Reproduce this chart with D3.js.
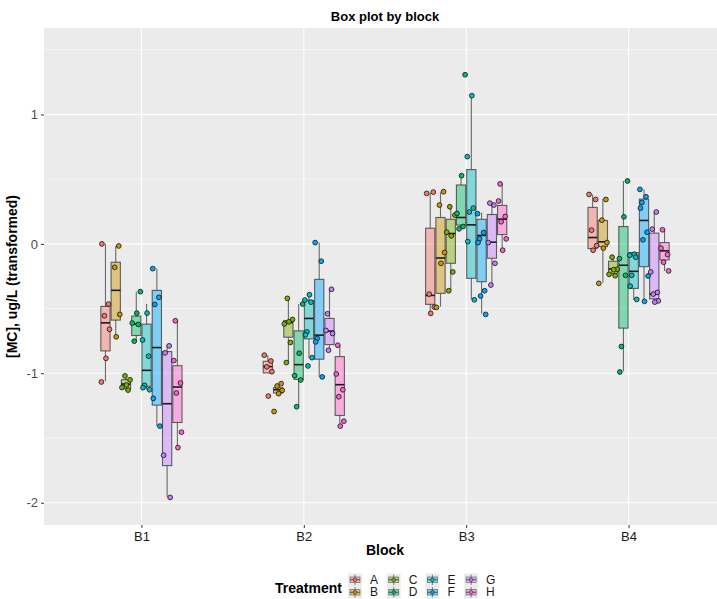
<!DOCTYPE html>
<html>
<head>
<meta charset="utf-8">
<script src="https://cdn.jsdelivr.net/npm/d3@7"></script>
<style>
  body { margin: 0; background: #fff; }
  text { font-family: "Liberation Sans", Arial, sans-serif; }
</style>
</head>
<body>
<div id="chart"></div>
<script>
var blocks = ["B1", "B2", "B3", "B4"];
var treatments = ["A", "B", "C", "D", "E", "F", "G", "H"];
var colors = ["#F8766D", "#CD9600", "#7CAE00", "#00BE67", "#00BFC4", "#00A9FF", "#C77CFF", "#FF61CC"];
var yTicks = [-2, -1, 0, 1];

// box statistics, one row per block, one value per treatment A..H
var lowerWhisker = [
  [-1.06, -0.71, -1.13, -0.752, -1.127, -1.408, -1.953, -1.566],
  [-0.997, -1.157, -0.912, -1.253, -0.881, -1.028, -0.822, -1.416],
  [-0.525, -0.486, -0.357, 0.116, -0.429, -0.537, -0.313, -0.047],
  [-0.049, -0.3, -0.246, -0.984, -0.434, -0.447, -0.45, -0.209]
];
var lowerHinge = [
  [-0.827, -0.589, -1.119, -0.708, -1.101, -1.246, -1.713, -1.38],
  [-0.997, -1.152, -0.721, -1.047, -0.734, -0.891, -0.778, -1.326],
  [-0.467, -0.382, -0.15, 0.145, -0.266, -0.292, -0.111, 0.072],
  [-0.036, -0.021, -0.227, -0.651, -0.344, -0.176, -0.424, -0.124]
];
var medians = [
  [-0.61, -0.359, -1.083, -0.62, -0.977, -0.801, -1.235, -1.106],
  [-0.948, -1.127, -0.607, -0.933, -0.576, -0.705, -0.674, -1.088],
  [-0.398, -0.109, 0.08, 0.204, 0.147, 0.065, 0.013, 0.191],
  [0.049, 0.016, -0.194, -0.165, -0.212, 0.181, -0.388, -0.054]
];
var upperHinge = [
  [-0.483, -0.142, -1.049, -0.558, -0.62, -0.359, -0.832, -0.941],
  [-0.907, -1.111, -0.592, -0.672, -0.437, -0.274, -0.576, -0.871],
  [0.121, 0.204, 0.19, 0.455, 0.574, 0.19, 0.227, 0.297],
  [0.282, 0.181, -0.134, 0.134, -0.067, 0.346, 0.083, 0.01]
];
var upperWhisker = [
  [0.0, -0.016, -1.02, -0.369, -0.465, -0.191, -0.788, -0.594],
  [-0.86, -1.085, -0.421, -0.465, -0.395, 0.01, -0.351, -0.783],
  [0.393, 0.398, 0.287, 0.53, 1.145, 0.243, 0.32, 0.463],
  [0.382, 0.346, -0.103, 0.486, -0.067, 0.421, 0.243, 0.109]
];

// observations per treatment
var pointsB1 = [
  [0.0, -0.465, -0.555, -0.66, -0.884, -1.067],
  [-0.016, -0.181, -0.545, -0.718],
  [-1.02, -1.05, -1.09, -1.11, -1.13],
  [-0.369, -0.535, -0.612, -0.622, -0.752],
  [-0.535, -0.742, -0.868, -1.093, -1.111, -1.127],
  [-0.191, -0.413, -0.468, -1.194, -1.408],
  [-0.788, -0.842, -1.633, -1.959],
  [-0.594, -0.902, -1.075, -1.152, -1.455, -1.574]
];
var pointsB2 = [
  [-0.86, -0.905, -0.95, -0.987, -1.176],
  [-1.08, -1.098, -1.132, -1.157, -1.295],
  [-0.421, -0.584, -0.602, -0.618, -0.762, -0.917],
  [-0.465, -0.845, -1.018, -1.052, -1.258],
  [-0.393, -0.434, -0.45, -0.68, -0.703, -0.879, -0.943],
  [0.01, -0.134, -0.731, -0.757, -1.028],
  [-0.351, -0.54, -0.669, -0.692, -0.822],
  [-0.783, -1.005, -1.127, -1.181, -1.37, -1.408]
];
var pointsB3 = [
  [0.39, 0.40, -0.388, -0.488, -0.537],
  [0.403, 0.30, -0.067, -0.15, -0.491],
  [0.287, 0.222, 0.062, 0.09, -0.217, -0.362],
  [1.307, 0.527, 0.235, 0.134, 0.116],
  [1.145, 0.674, 0.277, 0.246, 0.018, -0.432],
  [0.233, 0.088, 0.039, 0.01, -0.362, -0.403, -0.545],
  [0.3, 0.315, 0.01, -0.15, -0.318],
  [0.463, 0.331, 0.212, 0.171, 0.039, -0.049]
];
var pointsB4 = [
  [0.382, 0.343, 0.106, -0.013, -0.049],
  [0.343, 0.183, 0.01, -0.033, -0.305],
  [-0.103, -0.196, -0.199, -0.235, -0.246],
  [0.486, 0.209, -0.114, -0.243, -0.793, -0.99],
  [-0.08, -0.088, -0.103, -0.243, -0.326, -0.429],
  [0.421, 0.364, 0.32, 0.276, 0.09, 0.031, -0.248, -0.444],
  [0.246, 0.114, -0.217, -0.375, -0.388, -0.44, -0.45],
  [0.109, -0.033, -0.083, -0.142, -0.209]
];
var points = [pointsB1, pointsB2, pointsB3, pointsB4];

var W = 717, H = 599;
var margin = { top: 28, right: -9, bottom: 74, left: 44 };
var width = W - margin.left - margin.right;
var height = H - margin.top - margin.bottom;

var svg = d3.select("#chart").append("svg")
    .attr("width", W)
    .attr("height", H);

var x = d3.scalePoint().domain(blocks).range([0, width]).padding(0.6);
var step = x.step();
var xi = d3.scaleBand().domain(treatments)
    .range([-0.25 * step, 0.25 * step])
    .paddingInner(0.1);

var y = d3.scaleLinear().domain([-2.172, 1.668]).range([height, 0]);

var g = svg.append("g")
    .attr("transform", "translate(" + margin.left + "," + margin.top + ")");

// panel
g.append("rect")
    .attr("width", width).attr("height", height)
    .attr("fill", "#EBEBEB");

var minor = [-1.5, -0.5, 0.5, 1.5];
g.selectAll(".minor").data(minor).enter().append("line")
    .attr("x1", 0).attr("x2", width)
    .attr("y1", function (d) { return y(d); }).attr("y2", function (d) { return y(d); })
    .attr("stroke", "#fff").attr("stroke-width", 0.55);
g.selectAll(".gridy").data(yTicks).enter().append("line")
    .attr("x1", 0).attr("x2", width)
    .attr("y1", function (d) { return y(d); }).attr("y2", function (d) { return y(d); })
    .attr("stroke", "#fff").attr("stroke-width", 1.1);
g.selectAll(".gridx").data(blocks).enter().append("line")
    .attr("y1", 0).attr("y2", height)
    .attr("x1", function (d) { return x(d); }).attr("x2", function (d) { return x(d); })
    .attr("stroke", "#fff").attr("stroke-width", 1.1);

// axes
var yAxis = d3.axisLeft(y).tickValues(yTicks).tickSize(3).tickPadding(3)
    .tickFormat(function (d) { return String(d); });
var gY = g.append("g").call(yAxis);
gY.select(".domain").remove();
gY.selectAll(".tick line").attr("stroke", "#333");
gY.selectAll(".tick text").attr("fill", "#4D4D4D").style("font-size", "13px");

var xAxis = d3.axisBottom(x).tickSize(3).tickPadding(4);
var gX = g.append("g").attr("transform", "translate(0," + height + ")").call(xAxis);
gX.select(".domain").remove();
gX.selectAll(".tick line").attr("stroke", "#333");
gX.selectAll(".tick text").attr("fill", "#1a1a1a").style("font-size", "13px");

// boxes
var boxW = xi.bandwidth();
blocks.forEach(function (b, bi) {
    treatments.forEach(function (t, ti) {
        var cx = x(b) + xi(t) + boxW / 2;
        var col = colors[ti];
        var bg = g.append("g");
        bg.append("line")
            .attr("x1", cx).attr("x2", cx)
            .attr("y1", y(upperWhisker[bi][ti])).attr("y2", y(upperHinge[bi][ti]))
            .attr("stroke", "#333").attr("stroke-opacity", 0.7).attr("stroke-width", 1.1);
        bg.append("line")
            .attr("x1", cx).attr("x2", cx)
            .attr("y1", y(lowerHinge[bi][ti])).attr("y2", y(lowerWhisker[bi][ti]))
            .attr("stroke", "#333").attr("stroke-opacity", 0.7).attr("stroke-width", 1.1);
        bg.append("rect")
            .attr("x", cx - boxW / 2).attr("width", boxW)
            .attr("y", y(upperHinge[bi][ti]))
            .attr("height", Math.max(0.5, y(lowerHinge[bi][ti]) - y(upperHinge[bi][ti])))
            .attr("fill", col).attr("fill-opacity", 0.45)
            .attr("stroke", "#333").attr("stroke-opacity", 0.75).attr("stroke-width", 1.1);
        bg.append("line")
            .attr("x1", cx - boxW / 2).attr("x2", cx + boxW / 2)
            .attr("y1", y(medians[bi][ti])).attr("y2", y(medians[bi][ti]))
            .attr("stroke", "#1a1a1a").attr("stroke-width", 1.6);
    });
});

// jittered points (fixed offset pattern)
var jit = [-0.35, 0.3, -0.1, 0.4, 0.05, -0.4, 0.2, -0.2];
blocks.forEach(function (b, bi) {
    treatments.forEach(function (t, ti) {
        var cx = x(b) + xi(t) + boxW / 2;
        g.selectAll(null).data(points[bi][ti]).enter().append("circle")
            .attr("cx", function (d, i) { return cx + jit[(i + ti) % jit.length] * step * 0.0625; })
            .attr("cy", function (d) { return y(d); })
            .attr("r", 2.4)
            .attr("fill", colors[ti])
            .attr("stroke", "#111").attr("stroke-width", 0.8);
    });
});

// titles
svg.append("text")
    .attr("x", margin.left + width / 2).attr("y", 21)
    .attr("text-anchor", "middle")
    .style("font-size", "13px").style("font-weight", "bold")
    .text("Box plot by block");

svg.append("text")
    .attr("x", margin.left + width / 2).attr("y", 555)
    .attr("text-anchor", "middle")
    .style("font-size", "14px").style("font-weight", "bold")
    .text("Block");

svg.append("text")
    .attr("transform", "rotate(-90)")
    .attr("x", -(margin.top + height / 2)).attr("y", 17)
    .attr("text-anchor", "middle")
    .style("font-size", "14px").style("font-weight", "bold")
    .text("[MC], ug/L (transformed)");

// legend
var lg = svg.append("g");
lg.append("text")
    .attr("x", 275).attr("y", 593)
    .style("font-size", "14px").style("font-weight", "bold")
    .text("Treatment");

var keyW = 14, keyH = 12.5;
treatments.forEach(function (t, ti) {
    var col = Math.floor(ti / 2), row = ti % 2;
    var kx = 348 + col * 38.7, ky = 573.5 + row * 12.5;
    var k = lg.append("g").attr("transform", "translate(" + kx + "," + ky + ")");
    k.append("rect").attr("width", keyW).attr("height", keyH).attr("fill", "#EBEBEB");
    k.append("line").attr("x1", keyW / 2).attr("x2", keyW / 2).attr("y1", 1).attr("y2", keyH - 1)
        .attr("stroke", "#333").attr("stroke-opacity", 0.6);
    k.append("rect").attr("x", 2).attr("y", 3.5).attr("width", keyW - 4).attr("height", keyH - 7)
        .attr("fill", colors[ti]).attr("fill-opacity", 0.45)
        .attr("stroke", "#333").attr("stroke-opacity", 0.6).attr("stroke-width", 0.8);
    k.append("line").attr("x1", 2).attr("x2", keyW - 2).attr("y1", keyH / 2).attr("y2", keyH / 2)
        .attr("stroke", "#333").attr("stroke-width", 0.8);
    k.append("circle").attr("cx", keyW / 2).attr("cy", keyH / 2).attr("r", 1.8)
        .attr("fill", colors[ti]).attr("stroke", "#111").attr("stroke-width", 0.5);
    lg.append("text")
        .attr("x", kx + 22).attr("y", ky + keyH / 2 + 4)
        .attr("fill", "#1a1a1a")
        .style("font-size", "12px")
        .text(t);
});
</script>
</body>
</html>
